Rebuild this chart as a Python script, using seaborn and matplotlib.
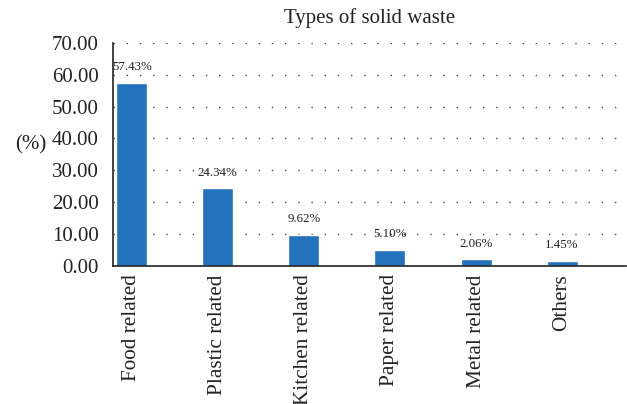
import matplotlib
matplotlib.use("Agg")
import matplotlib.pyplot as plt
import seaborn as sns
import pandas as pd

categories = ["Food related", "Plastic related", "Kitchen related", "Paper related", "Metal related", "Others"]
values = [57.43, 24.34, 9.62, 5.10, 2.06, 1.45]
labels = ["57.43%", "24.34%", "9.62%", "5.10%", "2.06%", "1.45%"]
yticks = [0, 10, 20, 30, 40, 50, 60, 70]

sns.set_theme(style="white")
plt.rcParams['font.family'] = ['Liberation Serif', 'DejaVu Serif']

df = pd.DataFrame({"cat": categories, "val": values})

fig = plt.figure(figsize=(6.27, 4.04), dpi=100)
ax = fig.add_axes([0.180, 0.342, 0.818, 0.552])

sns.barplot(data=df, x="cat", y="val", color="#2372bc", width=0.36, saturation=1, ax=ax)

ax.set_ylim(0, 70)
ax.set_xlim(-0.22, 5.74)
ax.set_yticks(yticks)
ax.set_yticklabels([f"{t:.2f}" for t in yticks], fontsize=15, color="#222222")
ax.tick_params(axis="y", length=0, pad=10)
ax.tick_params(axis="x", length=0, pad=6)
ax.set_xticks(range(len(categories)))
ax.set_xticklabels(categories, rotation=90, fontsize=15.3, color="#222222")
ax.set_xlabel("")
ax.set_ylabel("(%)", rotation=0, fontsize=15, color="#222222", labelpad=0)
ax.yaxis.set_label_coords(-0.16, 0.5)
ax.set_title("Types of solid waste", fontsize=15, color="#222222", pad=14)

for y in yticks[1:]:
    ax.axhline(y, color="#444444", lw=1.0, linestyle=(0, (1, 8.5)), zorder=0)

for i, (v, lab) in enumerate(zip(values, labels)):
    ax.annotate(lab, xy=(i, v), xytext=(0, 7), textcoords="offset points",
                ha="center", va="bottom", fontsize=9.3, color="#222222")

for side in ["top", "right"]:
    ax.spines[side].set_visible(False)
for side in ["left", "bottom"]:
    ax.spines[side].set_color("#222222")
    ax.spines[side].set_linewidth(1.2)

fig.savefig("out.png", dpi=100)
